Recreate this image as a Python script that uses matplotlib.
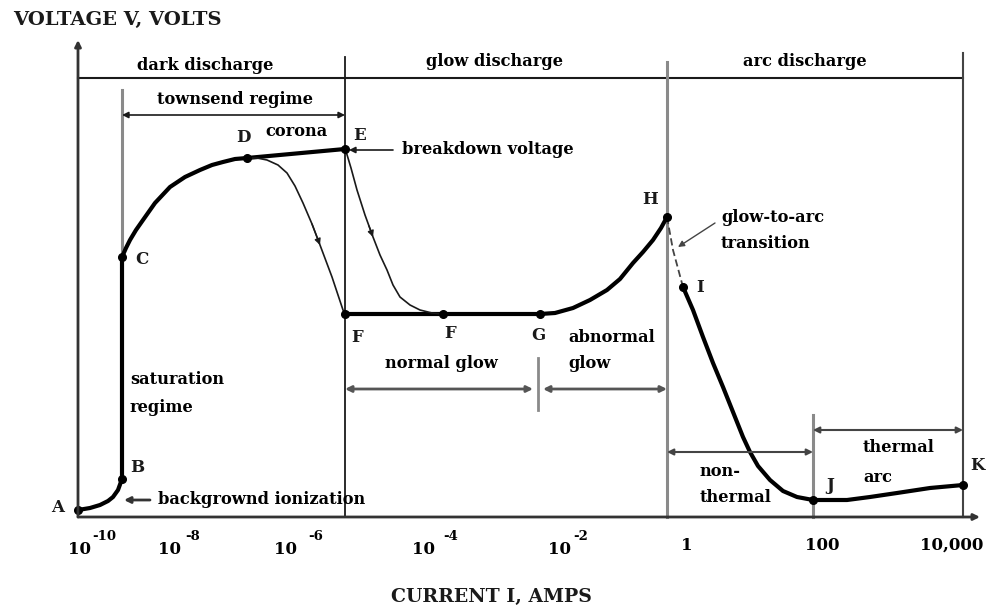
import matplotlib.pyplot as plt

# schematic units: x = position along the (log) current axis, y = voltage
# main characteristic, thick line
dark_x = [0, 12, 22, 30, 35, 40, 44, 44, 48, 52, 58, 65, 77, 92, 107, 122, 134,
          145, 157, 169, 267]
dark_v = [7, 9, 12, 16, 20, 27, 38, 260, 269, 277, 287, 297, 314, 330, 340, 347,
          352, 355, 358, 359, 368]
glow_x = [267, 365, 462, 477, 495, 512, 529, 542, 555, 565, 575, 583, 589]
glow_v = [203, 203, 203, 204, 209, 217, 227, 238, 254, 265, 277, 289, 300]
arc_x = [605, 615, 625, 635, 645, 655, 665, 672, 680, 692, 705, 719, 735, 752,
         769, 792, 819, 852, 885]
arc_v = [230, 207, 180, 154, 130, 105, 80, 65, 51, 37, 26, 20, 17, 17,
         17, 20, 24, 29, 32]
trans_x = [589, 595, 605]
trans_v = [300, 267, 230]

# hysteresis branches, thin line
down_x = [267, 273, 279, 287, 295, 302, 309, 315, 322, 332, 342, 354, 365]
down_v = [369, 349, 327, 302, 280, 262, 247, 232, 220, 212, 207, 204, 203]
up_x = [169, 179, 189, 200, 209, 217, 225, 234, 242, 254, 265, 267]
up_v = [359, 359, 357, 352, 344, 331, 314, 293, 272, 240, 207, 203]

# labelled points
pt_names = ['A', 'B', 'C', 'D', 'E', 'F', 'F', 'G', 'H', 'I', 'J', 'K']
pt_x = [0, 44, 44, 169, 267, 267, 365, 462, 589, 605, 735, 885]
pt_v = [7, 38, 260, 359, 368, 203, 203, 203, 300, 230, 17, 32]
lab_x = [-20, 59, 64, 165, 282, 279, 372, 460, 572, 622, 752, 899]
lab_v = [9, 49, 257, 380, 382, 180, 184, 182, 317, 229, 31, 52]

# x tick labels
dec_pos = [1, 92, 208, 346, 482]
dec_exp = ['-10', '-8', '-6', '-4', '-2']
exp_off = [13, 15, 22, 19, 13]
amp_pos = [609, 744, 874]
amp_lab = ['1', '100', '10,000']

# region boundaries
x_e, x_h, x_j, x_k, x_t = 267, 589, 735, 885, 44

plt.rcParams['font.family'] = 'DejaVu Serif'
plt.rcParams['font.weight'] = 'bold'
fs = 11.7
dark = '#1a1a1a'
grey = '#8a8a8a'

fig = plt.figure(figsize=(9.89, 6.09), dpi=100)
ax = fig.add_axes([0, 0, 1, 1])
ax.set_xlim(-78, 911)
ax.set_ylim(-92, 517)
ax.axis('off')


def arrow(x1, y1, x2, y2, style='-|>', color=dark, lw=1.2, ms=9):
    ax.annotate('', xy=(x2, y2), xytext=(x1, y1),
                arrowprops=dict(arrowstyle=style, color=color, lw=lw,
                                mutation_scale=ms, shrinkA=0, shrinkB=0))


# axes
arrow(0, 0, 0, 477, color='#333333', lw=2)
arrow(0, 0, 902, 0, color='#333333', lw=2)

# region lines
ax.plot([0, x_k], [439, 439], color=dark, lw=1.5)
ax.plot([x_e, x_e], [0, 460], color=dark, lw=1.3)
ax.plot([x_h, x_h], [0, 455], color=grey, lw=2.2)
ax.plot([x_k, x_k], [0, 464], color='#444444', lw=1.5)
ax.plot([x_t, x_t], [260, 427], color=grey, lw=2.2)
ax.plot([x_j, x_j], [0, 102], color=grey, lw=2.2)
ax.plot([460, 460], [107, 159], color=grey, lw=2)

# span arrows
arrow(x_t, 402, x_e, 402, style='<|-|>')
arrow(x_e, 128, 455, 128, style='<|-|>', color='#555555', lw=2)
arrow(465, 128, x_h, 128, style='<|-|>', color='#555555', lw=2)
arrow(x_h, 65, x_j, 65, style='<|-|>', color='#444444', lw=1.5)
arrow(x_j, 87, x_k, 87, style='<|-|>', color='#444444', lw=1.5)
arrow(315, 367, 271, 367)
arrow(72, 17, 46, 17, color='#333333', lw=2)
arrow(637, 294, 600, 270, color='#444444', lw=1)

# curves
kw = dict(color='black', lw=3, solid_capstyle='round', solid_joinstyle='round')
ax.plot(dark_x, dark_v, **kw)
ax.plot(glow_x, glow_v, **kw)
ax.plot(arc_x, arc_v, **kw)
ax.plot(trans_x, trans_v, color='#444444', lw=1.3, ls=(0, (4, 2)))
ax.plot(down_x, down_v, color=dark, lw=1.2)
ax.plot(up_x, up_v, color=dark, lw=1.2)
arrow(234, 293, 242, 272, color=dark, lw=1)
arrow(291, 291, 295, 280, color=dark, lw=1)
ax.plot(pt_x, pt_v, 'o', color='black', ms=5.5)

for name, x, y in zip(pt_names, lab_x, lab_v):
    ax.text(x, y, name, fontsize=12, ha='center', va='center', color=dark)

# text labels
ax.text(-65, 497, 'VOLTAGE V, VOLTS', fontsize=14, ha='left', va='center', color=dark)
ax.text(413, -80, 'CURRENT I, AMPS', fontsize=13.6, ha='center', va='center', color=dark)
ax.text(127, 452, 'dark discharge', fontsize=fs, ha='center', va='center')
ax.text(417, 455, 'glow discharge', fontsize=fs, ha='center', va='center')
ax.text(727, 455, 'arc discharge', fontsize=fs, ha='center', va='center')
ax.text(157, 417, 'townsend regime', fontsize=fs, ha='center', va='center')
ax.text(218, 385, 'corona', fontsize=fs, ha='center', va='center')
ax.text(324, 367, 'breakdown voltage', fontsize=fs, ha='left', va='center')
ax.text(643, 300, 'glow-to-arc', fontsize=fs, ha='left', va='center')
ax.text(643, 274, 'transition', fontsize=fs, ha='left', va='center')
ax.text(490, 180, 'abnormal', fontsize=fs, ha='left', va='center')
ax.text(490, 154, 'glow', fontsize=fs, ha='left', va='center')
ax.text(363, 154, 'normal glow', fontsize=fs, ha='center', va='center')
ax.text(52, 137, 'saturation', fontsize=fs, ha='left', va='center')
ax.text(52, 110, 'regime', fontsize=fs, ha='left', va='center')
ax.text(80, 18, 'backgrownd ionization', fontsize=fs, ha='left', va='center')
ax.text(622, 45, 'non-', fontsize=fs, ha='left', va='center')
ax.text(622, 19, 'thermal', fontsize=fs, ha='left', va='center')
ax.text(785, 69, 'thermal', fontsize=fs, ha='left', va='center')
ax.text(785, 40, 'arc', fontsize=fs, ha='left', va='center')

for x, e, off in zip(dec_pos, dec_exp, exp_off):
    ax.text(x, -33, '10', fontsize=12, ha='center', va='center')
    ax.text(x + off, -20, e, fontsize=9.5, ha='left', va='center')
for x, s in zip(amp_pos, amp_lab):
    ax.text(x, -28, s, fontsize=12, ha='center', va='center')

fig.savefig('out.png', dpi=100)
